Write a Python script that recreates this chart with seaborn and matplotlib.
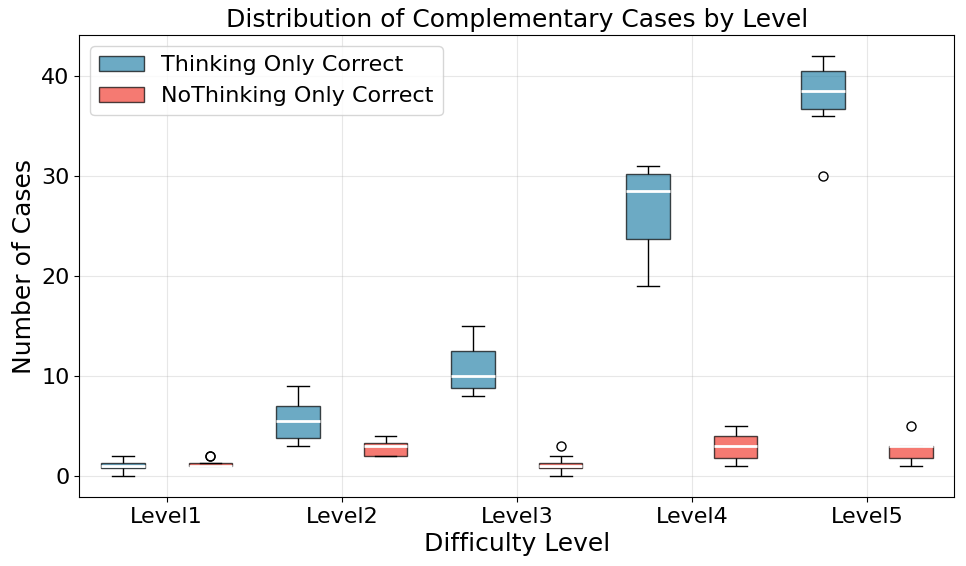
import numpy as np
import pandas as pd
import seaborn as sns
from matplotlib import pyplot as plt
from matplotlib.patches import Patch

LEVELS = ["Level1", "Level2", "Level3", "Level4", "Level5"]
SERIES = ["Thinking Only Correct", "NoThinking Only Correct"]
COLORS = ["#2E86AB", "#F24236"]

# per-level counts across runs
thinking_only = [
    [0, 0, 1, 1, 1, 1, 2, 2],
    [3, 3, 4, 5, 6, 7, 7, 9],
    [8, 8, 9, 10, 10, 12, 14, 15],
    [19, 23, 24, 28, 29, 30, 31, 31],
    [30, 36, 37, 38, 39, 40, 42, 42],
]
nothinking_only = [
    [1, 1, 1, 1, 1, 1, 2, 2],
    [2, 2, 2, 3, 3, 3, 4, 4],
    [0, 0, 1, 1, 1, 1, 2, 3],
    [1, 1, 2, 3, 3, 4, 4, 5],
    [1, 1, 2, 3, 3, 3, 3, 5],
]

rows = []
for name, values in zip(SERIES, [thinking_only, nothinking_only]):
    for level, counts in zip(LEVELS, values):
        for c in counts:
            rows.append({"level": level, "series": name, "count": c})
df = pd.DataFrame(rows)

fig, ax = plt.subplots(figsize=(9.66, 5.66), dpi=100)
fig.subplots_adjust(left=0.082, right=0.988, top=0.938, bottom=0.122)

sns.boxplot(
    data=df,
    x="level",
    y="count",
    hue="series",
    order=LEVELS,
    hue_order=SERIES,
    palette=COLORS,
    saturation=1,
    width=1.0,
    gap=0.5,
    linecolor="black",
    linewidth=1,
    boxprops=dict(alpha=0.7),
    medianprops=dict(color="white", linewidth=2),
    flierprops=dict(marker="o", markerfacecolor="none", markeredgecolor="black", markersize=6.5),
    legend=False,
    ax=ax,
)

ax.set_title("Distribution of Complementary Cases by Level", fontsize=18)
ax.set_xlabel("Difficulty Level", fontsize=18)
ax.set_ylabel("Number of Cases", fontsize=18)
ax.tick_params(axis="both", labelsize=16)
ax.grid(True, alpha=0.3)
ax.set_axisbelow(True)
for side in ["top", "right", "left", "bottom"]:
    ax.spines[side].set_visible(True)
    ax.spines[side].set_color("black")

handles = [Patch(facecolor=c, edgecolor="black", alpha=0.7, label=s) for c, s in zip(COLORS, SERIES)]
ax.legend(handles=handles, loc="upper left", fontsize=16)

fig.savefig("out.png")
